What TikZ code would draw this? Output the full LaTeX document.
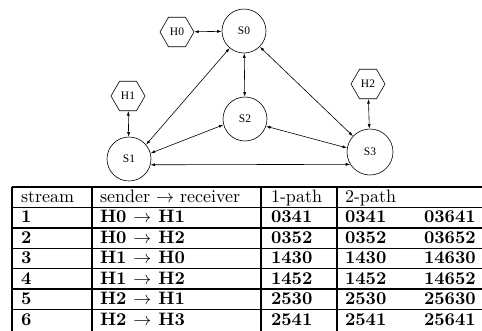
\documentclass[tikz,border=0pt]{standalone}
\usepackage{fontspec}
\usepackage{graphicx}
\newfontfamily\graphfont{Liberation Serif}
\usetikzlibrary{shapes.geometric,arrows.meta}
\newcommand\hdtext[1]{\scalebox{1.8}{\fontsize{10}{12}\selectfont #1}}
\newcommand\bdtext[1]{\scalebox{1.8}{\fontsize{10}{12}\selectfont\bfseries #1}}
\begin{document}
\begin{tikzpicture}[x=1pt,y=-1pt,
  stn/.style={circle,draw,line width=0.6pt,minimum size=44pt,inner sep=0pt,
    font=\graphfont\fontsize{11.5}{12}\selectfont},
  hst/.style={regular polygon,regular polygon sides=6,draw,line width=0.6pt,
    minimum size=34pt,inner sep=0pt,font=\graphfont\fontsize{11.5}{12}\selectfont},
  lnk/.style={{Latex[length=4.5pt,width=3pt]}-{Latex[length=4.5pt,width=3pt]},line width=0.6pt},
  gridline/.style={line width=1.4pt},
  cell/.style={anchor=base west,inner sep=0pt,outer sep=0pt}]
\useasboundingbox (0,0) rectangle (482,330);

% graph
\node[stn] (s0) at (244,31) {S0};
\node[stn] (s2) at (245,119) {S2};
\node[stn] (s1) at (129,159) {S1};
\node[stn,minimum size=46pt] (s3) at (370,152) {S3};
\node[hst] (h0) at (177,32) {H0};
\node[hst] (h1) at (128,96) {H1};
\node[hst] (h2) at (368,84) {H2};

\draw[lnk] (h0) -- (s0);
\draw[lnk] (h1) -- (s1);
\draw[lnk] (h2) -- (s3);
\draw[lnk] (s0) -- (s2);
\draw[lnk] (s0.230) -- (s1.40);
\draw[lnk] (s0.-45) -- (s3.137);
\draw[lnk] (s2.195) -- (s1.15);
\draw[lnk] (s2.-19) -- (s3.170);
\draw[lnk] (s1.-15) -- (s3.212);

% table grid
\foreach \k in {0,...,6}
  \draw[gridline] (12,{187+20.43*\k}) -- (482,{187+20.43*\k});
\foreach \xx in {12,92,261,337}
  \draw[gridline] (\xx,187) -- (\xx,332);

% header
\node[cell] (th1) at (21,202.4) {\hdtext{stream}};
\node[cell] (th2) at (100,202.4) {\hdtext{sender $\rightarrow$ receiver}};
\node[cell] (th3) at (271,202.4) {\hdtext{1-path}};
\node[cell] (th4) at (345,202.4) {\hdtext{2-path}};

% rows
\foreach \n/\sr/\pa/\pb/\pc in {
  1/H0 $\rightarrow$ H1/0341/0341/03641,
  2/H0 $\rightarrow$ H2/0352/0352/03652,
  3/H1 $\rightarrow$ H0/1430/1430/14630,
  4/H1 $\rightarrow$ H2/1452/1452/14652,
  5/H2 $\rightarrow$ H1/2530/2530/25630,
  6/H2 $\rightarrow$ H3/2541/2541/25641}{
  \node[cell] (r\n a) at (21,{187+20.43*(\n+1)-5}) {\bdtext{\n}};
  \node[cell] (r\n b) at (100,{187+20.43*(\n+1)-5}) {\bdtext{\sr}};
  \node[cell] (r\n c) at (271,{187+20.43*(\n+1)-5}) {\bdtext{\pa}};
  \node[cell] (r\n d) at (345,{187+20.43*(\n+1)-5}) {\bdtext{\pb}};
  \node[cell] (r\n e) at (424,{187+20.43*(\n+1)-5}) {\bdtext{\pc}};
}
\end{tikzpicture}
\end{document}
